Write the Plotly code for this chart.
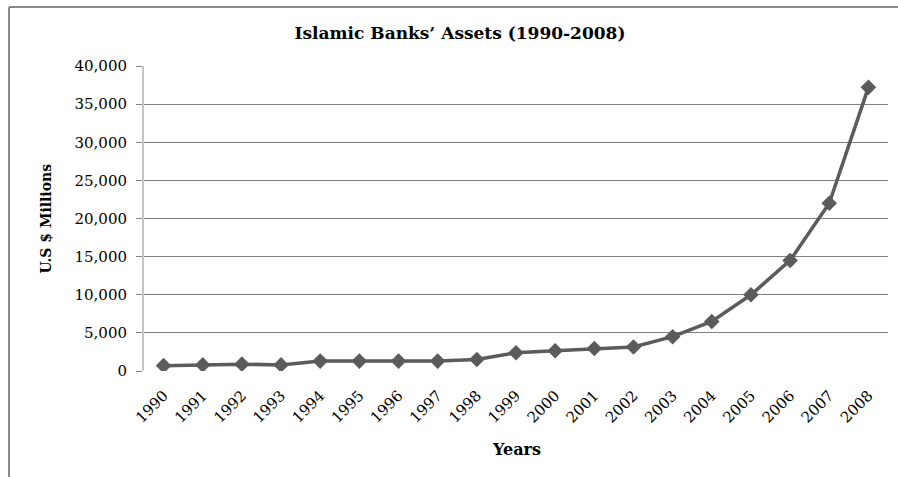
import plotly.graph_objects as go

years = [str(y) for y in range(1990, 2009)]
assets = [700, 800, 900, 800, 1300, 1300, 1300, 1300, 1500, 2400, 2650, 2950, 3150,
          4500, 6500, 10000, 14500, 22000, 37200]
y_ticks = [0, 5000, 10000, 15000, 20000, 25000, 30000, 35000, 40000]
y_ticklabels = ["0", "5,000", "10,000", "15,000", "20,000", "25,000", "30,000", "35,000", "40,000"]

W, H = 898, 477
L, R, T, B = 144, 10, 66, 106
pw, ph = W - L - R, H - T - B

def px(X):
    return (X - L) / pw

def py(Y):
    return (H - B - Y) / ph

serif = "DejaVu Serif"
grid = "#808080"

fig = go.Figure()
fig.add_trace(go.Scatter(
    x=years, y=assets, mode="lines+markers",
    line=dict(color="#5b5b5b", width=3.5),
    marker=dict(symbol="diamond", size=12, color="#5b5b5b"),
    showlegend=False,
))

fig.update_layout(
    width=W, height=H,
    margin=dict(l=L, r=R, t=T, b=B),
    paper_bgcolor="white", plot_bgcolor="white",
    title=dict(text="<b>Islamic Banks’ Assets (1990-2008)</b>",
               x=460 / W, xanchor="center", y=1 - 33 / H, yanchor="middle",
               font=dict(family=serif, size=17, color="black")),
    xaxis=dict(type="category", range=[-0.5, 18.5], showgrid=False,
               showline=False, ticks="", tickangle=-45,
               ticklabelstandoff=12,
               tickfont=dict(family=serif, size=15, color="black"),
               zeroline=False),
    yaxis=dict(range=[0, 40000], tickvals=y_ticks, ticktext=y_ticklabels,
               showgrid=True, gridcolor=grid, gridwidth=1,
               showline=True, linecolor="#c4c4c4", linewidth=2,
               ticks="outside", ticklen=6, tickcolor=grid,
               ticklabelstandoff=6,
               tickfont=dict(family=serif, size=15, color="black"),
               zeroline=False),
)

fig.add_annotation(text="<b>U.S $ Millions</b>", textangle=-90,
                   x=px(45), y=0.5, xref="paper", yref="paper",
                   xanchor="center", yanchor="middle",
                   showarrow=False, font=dict(family=serif, size=14, color="black"))
fig.add_annotation(text="<b>Years</b>",
                   x=px(516), y=py(449), xref="paper", yref="paper",
                   xanchor="center", yanchor="middle",
                   showarrow=False, font=dict(family=serif, size=16, color="black"))

# outer chart border (left and top visible)
fig.add_shape(type="line", xref="paper", yref="paper",
              x0=px(9), x1=px(9), y0=py(7), y1=py(490),
              line=dict(color="#8a8a8a", width=2))
fig.add_shape(type="line", xref="paper", yref="paper",
              x0=px(9), x1=px(905), y0=py(7), y1=py(7),
              line=dict(color="#8a8a8a", width=2))

fig.write_html("out.html")
